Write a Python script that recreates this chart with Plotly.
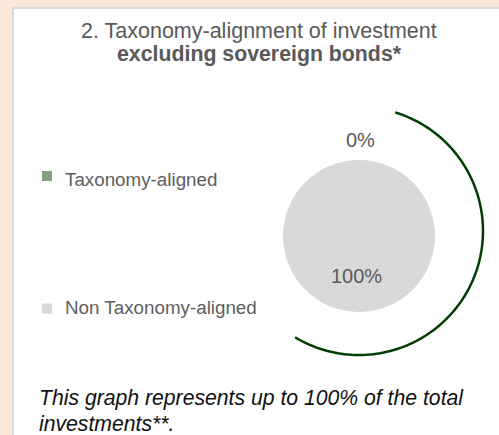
import numpy as np
import plotly.graph_objects as go

# ---- data ----
categories = ["Taxonomy-aligned", "Non Taxonomy-aligned"]
values = [0, 100]
colors = ["#84A07E", "#D9D9D9"]
title_line1 = "2. Taxonomy-alignment of investment"
title_line2 = "excluding sovereign bonds*"
footnote_lines = ["This graph represents up to 100% of the total", "investments**."]

W, H = 499, 435
FONT = "Liberation Sans, Arial, sans-serif"
GRAY = "#595959"

# pie geometry (pixels)
pcx, pcy, pr = 359, 236, 76

fig = go.Figure()
fig.add_trace(go.Pie(
    labels=categories, values=values, sort=False, direction="clockwise", rotation=0,
    marker=dict(colors=colors, line=dict(width=0)), textinfo="none", hoverinfo="label+percent",
    showlegend=False,
    domain=dict(x=[(pcx - pr) / W, (pcx + pr) / W], y=[1 - (pcy + pr) / H, 1 - (pcy - pr) / H]),
))

total = sum(values)
pcts = [f"{v / total * 100:.0f}%" for v in values]

shapes = []
# white panel with grey border
shapes.append(dict(type="rect", xref="x", yref="y", x0=13, y0=8, x1=W + 6, y1=H + 6,
                   fillcolor="white", line=dict(color="#DADADA", width=2), layer="below"))
# decorative arc
ang = np.deg2rad(np.linspace(17, 211, 120))
acx, acy, ar = 359, 231, 124
ax_ = acx + ar * np.sin(ang)
ay_ = acy - ar * np.cos(ang)
path = "M " + " L ".join(f"{x:.2f},{y:.2f}" for x, y in zip(ax_, ay_))
shapes.append(dict(type="path", xref="x", yref="y", path=path,
                   line=dict(color="#003D00", width=2.5)))

# legend squares
leg_sq_y = [176, 308.5]
leg_txt_y = [179, 307]
for c, sy in zip(colors, leg_sq_y):
    shapes.append(dict(type="rect", xref="x", yref="y", x0=42, x1=52, y0=sy - 5, y1=sy + 5,
                       fillcolor=c, line=dict(width=0)))

ann = []
ann.append(dict(x=258.5, y=30.5, text=title_line1, showarrow=False, xanchor="center", yanchor="middle",
                font=dict(family=FONT, size=21.5, color=GRAY)))
ann.append(dict(x=259, y=53.5, text=f"<b>{title_line2}</b>", showarrow=False, xanchor="center",
                yanchor="middle", font=dict(family=FONT, size=21.3, color=GRAY)))
for cat, ty in zip(categories, leg_txt_y):
    ann.append(dict(x=63, y=ty, text=cat, showarrow=False, xanchor="left", yanchor="middle",
                    font=dict(family=FONT, size=18.8, color="#5E5E5E")))
pct_pos = [(360.5, 140), (356.5, 276)]
for t, (px, py) in zip(pcts, pct_pos):
    ann.append(dict(x=px, y=py, text=t, showarrow=False, xanchor="center", yanchor="middle",
                    font=dict(family=FONT, size=20, color=GRAY)))
for line, fy in zip(footnote_lines, [398, 423]):
    ann.append(dict(x=37, y=fy, text=f"<i>{line}</i>", showarrow=False, xanchor="left", yanchor="middle",
                    font=dict(family=FONT, size=21.2, color="#111111")))
for a in ann:
    a.update(xref="x", yref="y")

fig.update_layout(
    width=W, height=H, margin=dict(l=0, r=0, t=0, b=0),
    paper_bgcolor="#FAE9DA", plot_bgcolor="rgba(0,0,0,0)",
    xaxis=dict(range=[0, W], visible=False, fixedrange=True, domain=[0, 1]),
    yaxis=dict(range=[H, 0], visible=False, fixedrange=True, domain=[0, 1]),
    shapes=shapes, annotations=ann, showlegend=False,
)
fig.write_html("out.html", config={"displayModeBar": False},
               post_script="document.body.style.margin='0';document.body.style.overflow='hidden';")
